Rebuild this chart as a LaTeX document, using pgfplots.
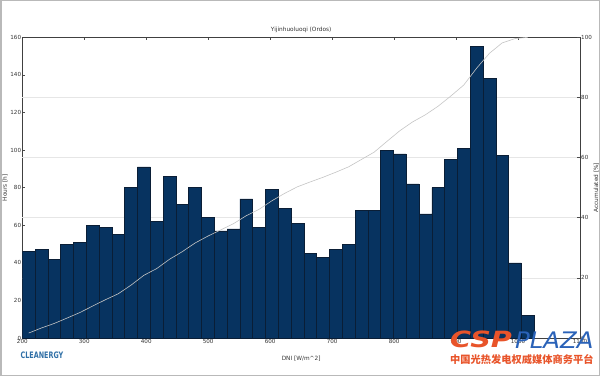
\documentclass[border=0pt]{standalone}
\usepackage{fontspec}
\setmainfont{DejaVu Sans}
\newfontfamily\cjk{Noto Sans CJK SC}
\usepackage{graphicx}
\usepackage{pgfplots}
\pgfplotsset{compat=1.18}
\definecolor{barfill}{HTML}{073360}
\definecolor{baredge}{HTML}{0A1E36}
\definecolor{cumline}{HTML}{C4C4C4}
\definecolor{gridc}{HTML}{E6E6E6}
\definecolor{txt}{HTML}{333333}
\definecolor{cspred}{HTML}{E8542A}
\definecolor{cspblue}{HTML}{2A62B8}
\definecolor{clean}{HTML}{2F6FA6}
\begin{document}
\begin{tikzpicture}
\useasboundingbox (0,0) rectangle (600pt,376pt);
\draw[gray!55, line width=1.5pt] (0.75pt,0.75pt) rectangle (599.25pt,375.25pt);
\pgfplotsset{
  common/.style={
    at={(22.3pt,38pt)}, anchor=south west,
    scale only axis, width=557.7pt, height=300.7pt,
    xmin=200, xmax=1100,
    tick align=inside, major tick length=3pt,
    tick style={color=black!70, line width=0.5pt},
    axis line style={black!75, line width=0.6pt},
    ticklabel style={font=\fontsize{5.6}{6}\selectfont, text=txt, inner sep=1pt},
    /pgf/number format/assume math mode=true,
    /pgf/number format/set thousands separator={},
  }
}
\begin{axis}[common,
  ymin=0, ymax=160,
  xtick={200,300,...,1100}, ytick={0,20,...,160},
  ytick pos=left, xtick pos=both, xticklabel pos=bottom,
  extra y ticks={32,64,96,128}, extra y tick labels={},
  extra y tick style={grid=major, major tick length=0pt, grid style={gridc, line width=0.6pt}},
  xlabel={DNI [W/m\textasciicircum 2]},
  ylabel={Hours [h]},
  title={Yijinhuoluoqi (Ordos)},
  every axis x label/.style={at={(axis description cs:0.5,-0.0698)}, anchor=center, font=\fontsize{5.8}{6}\selectfont, text=txt},
  every axis y label/.style={at={(axis description cs:-0.031,0.5)}, anchor=center, rotate=90, font=\fontsize{5.8}{6}\selectfont, text=txt},
  every axis title/.style={at={(axis description cs:0.5,1.024)}, anchor=center, font=\fontsize{5.8}{6}\selectfont, text=txt},
]
\addplot[ybar, bar width=20.65, bar shift=0pt, fill=barfill, draw=baredge, line width=0.5pt] coordinates {
(210.33,46) (230.98,47) (251.63,42) (272.28,50) (292.93,51) (313.58,60) (334.23,59) (354.88,55)
(375.53,80) (396.18,91) (416.83,62) (437.48,86) (458.13,71) (478.78,80) (499.43,64) (520.08,57)
(540.73,58) (561.38,74) (582.03,59) (602.68,79) (623.33,69) (643.98,61) (664.63,45) (685.28,43)
(705.93,47) (726.58,50) (747.23,68) (767.88,68) (788.53,100) (809.18,98) (829.83,82) (850.48,66)
(871.13,80) (891.78,95) (912.43,101) (933.08,155) (953.73,138) (974.38,97) (995.03,40) (1015.68,12)
};
\end{axis}
\begin{axis}[common,
  ymin=0, ymax=100,
  axis y line*=right, axis x line=none,
  ytick={0,20,...,100},
  ylabel={Accumulated [\%]},
  every axis y label/.style={at={(axis description cs:1.0292,0.5)}, anchor=center, rotate=90, font=\fontsize{5.8}{6}\selectfont, text=txt},
]
\addplot[cumline, line width=0.6pt] coordinates {
(210.33,1.651) (230.98,3.338) (251.63,4.846) (272.28,6.640) (292.93,8.471) (313.58,10.625) (334.23,12.742) (354.88,14.716)
(375.53,17.588) (396.18,20.854) (416.83,23.080) (437.48,26.167) (458.13,28.715) (478.78,31.587) (499.43,33.884) (520.08,35.930)
(540.73,38.011) (561.38,40.668) (582.03,42.785) (602.68,45.621) (623.33,48.098) (643.98,50.287) (664.63,51.902) (685.28,53.446)
(705.93,55.133) (726.58,56.927) (747.23,59.368) (767.88,61.809) (788.53,65.398) (809.18,68.916) (829.83,71.859) (850.48,74.228)
(871.13,77.100) (891.78,80.510) (912.43,84.135) (933.08,89.699) (953.73,94.652) (974.38,98.134) (995.03,99.569) (1015.68,100.000)
};
\end{axis}
\node[anchor=center, text=clean, inner sep=0] at (42pt,21pt) {\resizebox{42.6pt}{6.6pt}{\bfseries CLEANERGY}};
\node[anchor=south west, inner sep=0, text=cspred] at (450pt,27.7pt) {\resizebox{61.7pt}{16.6pt}{\bfseries\itshape CSP}};
\node[anchor=south west, inner sep=0, text=cspblue] at (515pt,27.7pt) {\resizebox{78.3pt}{16.6pt}{\itshape PLAZA}};
\node[anchor=west, inner sep=0, text=cspred] at (450pt,16pt) {\resizebox{143.3pt}{!}{\cjk\bfseries 中国光热发电权威媒体商务平台}};
\end{tikzpicture}
\end{document}
